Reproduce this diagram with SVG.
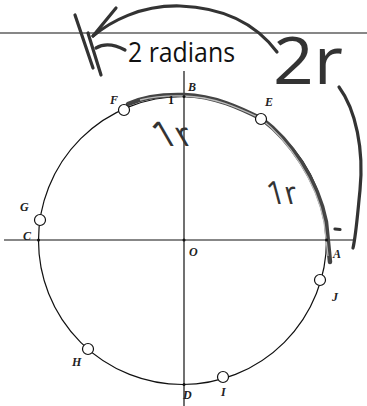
<svg xmlns="http://www.w3.org/2000/svg" width="367" height="406" viewBox="0 0 367 406">
<style>
.ln{stroke:#111;stroke-width:1.2;fill:none}
.pt{fill:#fff;stroke:#111;stroke-width:1.2}
.dot{fill:#111}
.lbl{font-family:"Liberation Serif",serif;font-style:italic;font-weight:bold;font-size:12px;fill:#222}
.hand{stroke:#333;stroke-width:3.2;fill:none;stroke-linecap:round;stroke-linejoin:round}
.htxt{font-family:"Open Sans","DejaVu Sans",sans-serif;font-weight:400;fill:#333}
</style>
<rect width="367" height="406" fill="#fff"/>
<g id="axes">
<line class="ln" x1="0" y1="33" x2="367" y2="33" stroke-width="1.4"/>
<line class="ln" x1="4" y1="240" x2="355" y2="240"/>
<line class="ln" x1="184" y1="71" x2="184" y2="406"/>
</g>
<g id="circle">
<circle class="ln" cx="182.5" cy="240.5" r="144"/>
</g>
<g id="connectors">
<path d="M128,104 Q150,94 184,95 C215,96 240,108 262,119 C290,140 318,180 326,222 L330,262" stroke="#444" stroke-width="4.5" fill="none" stroke-linecap="round"/>
<path d="M140,100 Q160,95 184,96 C215,97 238,108 260,118 C288,140 316,180 324,222 L328,256" stroke="#bbb" stroke-width="1.3" fill="none"/>
<path class="hand" d="M277,52 C262,32 235,8 180,6 C140,5 110,22 93,36"/>
<path class="hand" d="M93,36 L116,8"/>
<path class="hand" d="M75,15 L93,68"/>
<path class="hand" d="M88,33 L101,75" stroke-width="3.6"/>
<path class="hand" d="M96,48 Q108,41 125,50"/>
<path class="hand" d="M339,87 C356,110 364,150 360,190 C357,220 356,235 353,248"/>
<path class="hand" d="M335,229 L340,229.5" stroke-width="2.2"/>
</g>
<g id="pointB"><circle class="dot" cx="184" cy="96.5" r="1.5"/><text class="lbl" x="188" y="91">B</text></g>
<g id="pointC"><circle class="dot" cx="38.5" cy="240" r="1.5"/><text class="lbl" x="23" y="240">C</text></g>
<g id="pointO"><circle class="dot" cx="184" cy="240" r="1.5"/><text class="lbl" x="189" y="256">O</text></g>
<g id="pointA"><circle class="dot" cx="326.5" cy="240" r="1.5"/><text class="lbl" x="333" y="258">A</text></g>
<g id="pointD"><circle class="dot" cx="184" cy="384.5" r="1.5"/><text class="lbl" x="183" y="399">D</text></g>
<g id="pointF"><circle class="pt" cx="124" cy="110" r="5.5"/><text class="lbl" x="110" y="104">F</text></g>
<g id="pointE"><circle class="pt" cx="261" cy="119" r="5.5"/><text class="lbl" x="265" y="106">E</text></g>
<g id="pointG"><circle class="pt" cx="40" cy="220" r="5.5"/><text class="lbl" x="20" y="211">G</text></g>
<g id="pointJ"><circle class="pt" cx="320" cy="280" r="5.5"/><text class="lbl" x="332" y="301">J</text></g>
<g id="pointH"><circle class="pt" cx="88" cy="349" r="5.5"/><text class="lbl" x="72" y="366">H</text></g>
<g id="pointI"><circle class="pt" cx="223" cy="377" r="5.5"/><text class="lbl" x="221" y="396">I</text></g>
<g id="tick"><text x="168" y="104" font-family="Liberation Serif,serif" font-weight="bold" font-size="12" fill="#111">1</text></g>
<g id="title"><text x="128" y="62" font-family="Open Sans,sans-serif" font-size="27" font-weight="500" fill="#111" textLength="107" lengthAdjust="spacingAndGlyphs">2 radians</text></g>
<g id="hand2r"><text class="htxt" x="273" y="84" font-size="66" textLength="70" lengthAdjust="spacingAndGlyphs">2r</text></g>
<g id="hand1rTop"><text class="htxt" transform="translate(160,146) skewX(30)" font-size="34" textLength="38" lengthAdjust="spacingAndGlyphs">1r</text></g>
<g id="hand1rSide"><text class="htxt" transform="translate(270,204) skewX(15)" font-size="32" textLength="30" lengthAdjust="spacingAndGlyphs">1r</text></g>
</svg>
